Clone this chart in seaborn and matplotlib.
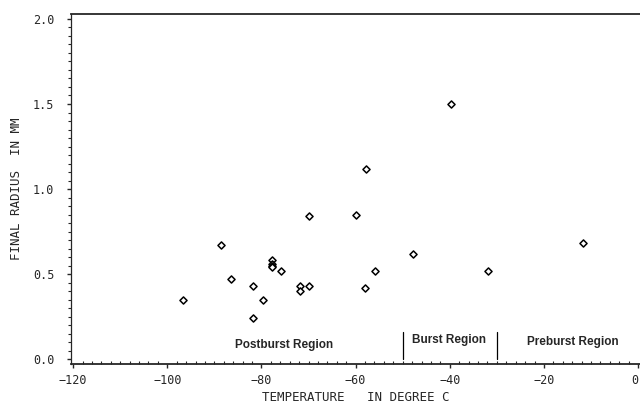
import matplotlib
matplotlib.use("Agg")
import matplotlib.pyplot as plt
from matplotlib.ticker import MultipleLocator
import pandas as pd
import seaborn as sns

# temperature (deg C) vs final radius (mm)
temperature = [-96.6, -88.5, -86.4, -81.8, -81.8, -79.7, -77.8, -77.8, -77.8, -77.8,
               -75.8, -71.9, -71.9, -70.0, -69.9, -59.9, -57.8, -57.9, -55.8,
               -47.8, -39.8, -31.8, -11.6]
radius = [0.35, 0.67, 0.47, 0.43, 0.24, 0.35, 0.58, 0.56, 0.55, 0.54,
          0.52, 0.43, 0.40, 0.43, 0.84, 0.85, 1.12, 0.42, 0.52,
          0.62, 1.50, 0.52, 0.68]

region_names = ["Postburst Region", "Burst Region", "Preburst Region"]
region_x = [-75.2, -40.2, -13.8]
region_y = [0.085, 0.11, 0.10]
boundaries = [-50, -30]

xticks = [-120, -100, -80, -60, -40, -20, 0]
yticks = [0.0, 0.5, 1.0, 1.5, 2.0]

df = pd.DataFrame({"temp": temperature, "radius": radius})

sns.set_style("ticks")
plt.rcParams["font.family"] = ["DejaVu Sans Mono", "DejaVu Sans"]

fig = plt.figure(figsize=(6.4, 4.05), dpi=100)
ax = fig.add_axes([0.1109, 0.101, 0.8891, 0.8644])

sns.scatterplot(data=df, x="temp", y="radius", marker="D", s=13,
                facecolor="white", edgecolor="black", linewidth=1.1, ax=ax)

for b in boundaries:
    ax.plot([b, b], [0, 0.16], color="black", lw=0.9)
for name, xx, yy in zip(region_names, region_x, region_y):
    ax.text(xx, yy, name, ha="center", va="center", fontsize=8.5,
            fontweight="bold", family="Liberation Sans")

ax.set_xlim(-120.45, 0.4)
ax.set_ylim(-0.029, 2.029)
ax.set_xticks(xticks, [f"{v}".replace("-", "\u2212") for v in xticks])
ax.set_yticks(yticks, [f"{v:.1f}" for v in yticks])
ax.xaxis.set_minor_locator(MultipleLocator(2))
ax.yaxis.set_minor_locator(MultipleLocator(0.05))
ax.get_xticklabels()[-1].set_horizontalalignment("right")

ax.tick_params(axis="x", which="major", direction="out", length=3, width=1, pad=4, labelsize=8.5)
ax.tick_params(axis="x", which="minor", direction="in", length=2.5, width=0.8)
ax.tick_params(axis="y", which="major", direction="out", length=3, width=1, pad=9, labelsize=8.5)
ax.tick_params(axis="y", which="minor", direction="out", length=2, width=0.8)

ax.spines["right"].set_visible(False)
ax.spines["top"].set_linewidth(1.3)
ax.spines["left"].set_linewidth(0.9)
ax.spines["bottom"].set_linewidth(1.3)

ax.set_xlabel("TEMPERATURE   IN DEGREE C", fontsize=9, labelpad=3)
ax.set_ylabel("FINAL RADIUS  IN MM", fontsize=9, labelpad=7)

fig.savefig("out.png", dpi=100)
